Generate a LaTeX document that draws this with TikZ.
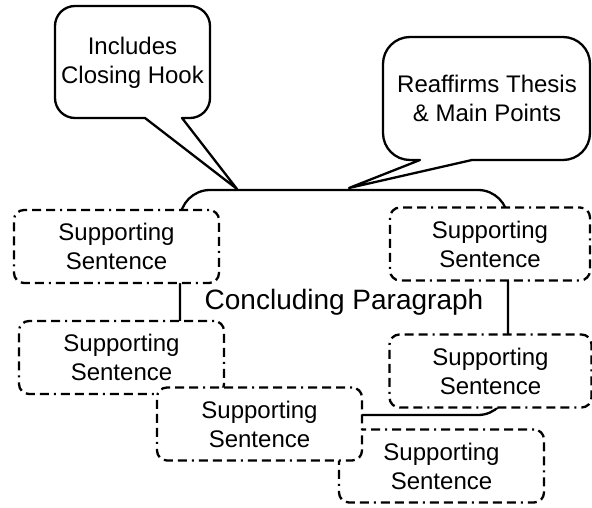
\documentclass[tikz,border=0pt]{standalone}
\usepackage{fontspec}
\setmainfont{Liberation Sans}
\begin{document}
\begin{tikzpicture}[x=1pt,y=1pt,
  outline/.style={draw=black, line width=2.3pt, fill=white, line join=round},
  supbox/.style={draw=black, fill=white, line width=2.3pt, rounded corners=10pt,
    minimum width=205pt, minimum height=73pt, align=center, inner sep=0pt,
    font=\fontsize{24}{29}\selectfont,
    dash pattern=on 2pt off 5pt on 9pt off 5pt on 9pt off 5pt on 9pt off 5pt},
  calltext/.style={align=center, inner sep=0pt, font=\fontsize{24}{29}\selectfont}]
\useasboundingbox (0,0) rectangle (592,-508);

% main paragraph
\node[outline, rounded corners=30pt, minimum width=328pt, minimum height=225pt,
  inner sep=0pt, font=\fontsize{28}{33}\selectfont] (main) at (344,-302.5) {Concluding Paragraph};

% callout: closing hook
\coordinate (hookTip) at (237,-189);
\draw[outline] (145,-118) -- (hookTip) -- (182,-118) -- (190,-118)
  arc[start angle=-90, end angle=0, radius=20] -- (210,-26)
  arc[start angle=0, end angle=90, radius=20] -- (75,-6)
  arc[start angle=90, end angle=180, radius=20] -- (55,-98)
  arc[start angle=180, end angle=270, radius=20] -- cycle;
\node[calltext] (hook) at (132.5,-63) {Includes\\Closing Hook};

% callout: thesis
\coordinate (thesisTip) at (349,-188);
\draw[outline] (420,-160) -- (thesisTip) -- (472,-160) -- (563,-160)
  arc[start angle=-90, end angle=0, radius=27] -- (590,-64)
  arc[start angle=0, end angle=90, radius=27] -- (410,-37)
  arc[start angle=90, end angle=180, radius=27] -- (383,-133)
  arc[start angle=180, end angle=270, radius=27] -- cycle;
\node[calltext] (thesis) at (487,-98.5) {Reaffirms Thesis\\\& Main Points};

% supporting sentences
\node[supbox] (s1) at (116.5,-246.5) {Supporting\\Sentence};
\node[supbox] (s2) at (121.5,-357.5) {Supporting\\Sentence};
\node[supbox] (s6) at (441.5,-466) {Supporting\\Sentence};
\node[supbox] (s3) at (259.5,-424) {Supporting\\Sentence};
\node[supbox, minimum width=200pt] (s4) at (490,-244) {Supporting\\Sentence};
\node[supbox, minimum width=202pt] (s5) at (490.5,-371) {Supporting\\Sentence};
\end{tikzpicture}
\end{document}
